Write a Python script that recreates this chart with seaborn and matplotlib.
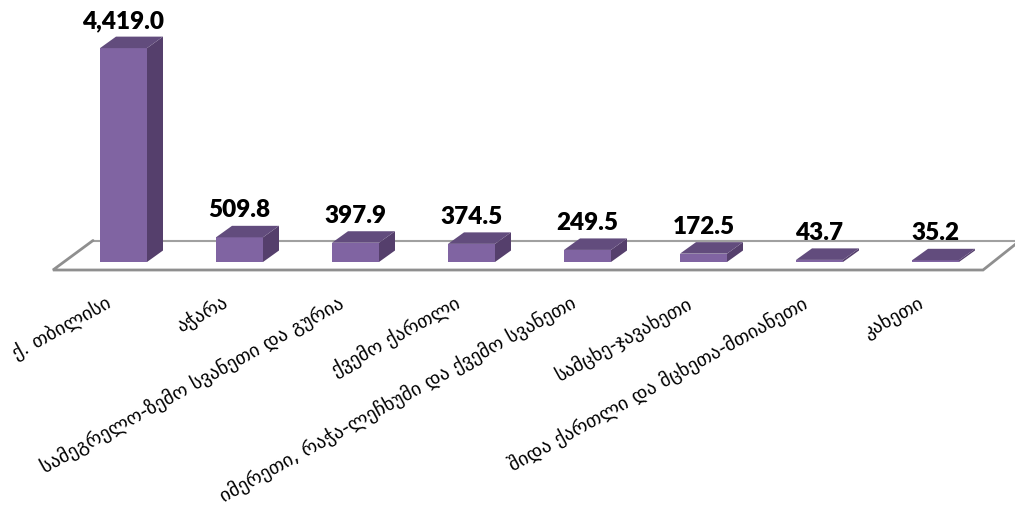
import seaborn as sns
import matplotlib.pyplot as plt
from matplotlib.patches import Polygon
from matplotlib.transforms import ScaledTranslation

regions = ['ქ. თბილისი', 'აჭარა', 'სამეგრელო-ზემო სვანეთი და გურია', 'ქვემო ქართლი',
           'იმერეთი, რაჭა-ლეჩხუმი და ქვემო სვანეთი', 'სამცხე-ჯავახეთი',
           'შიდა ქართლი და მცხეთა-მთიანეთი', 'კახეთი']
values = [4419.0, 509.8, 397.9, 374.5, 249.5, 172.5, 43.7, 35.2]
value_labels = ['4,419.0', '509.8', '397.9', '374.5', '249.5', '172.5', '43.7', '35.2']

# pixel layout of the chart
W, H = 1015, 513
PX_X = 116.0
PX_Y = 0.0484
DEPTH_X = 16 / PX_X
DEPTH_Y = 11.5 / PX_Y

sns.set_theme(style='white')
plt.rcParams['font.family'] = ['DejaVu Sans']

fig = plt.figure(figsize=(W / 100, H / 100), dpi=100)
ax = fig.add_axes([65.5 / W, (H - 262) / H, 928 / W, 262 / H])

sns.barplot(x=regions, y=values, color='#8064A2', saturation=1, width=47 / PX_X, ax=ax, zorder=3,
            edgecolor='none', linewidth=0)
ax.set_xlim(-0.5, 7.5)
ax.set_ylim(0, 262 / PX_Y)
bars = list(ax.patches)

# floor of the 3d chart
fl, fr = -0.608, 7.41
bl, br = -0.263, 7.73
front_y, back_y = -8 / PX_Y, 21.5 / PX_Y
ax.add_patch(Polygon([(fl, front_y), (fr, front_y), (br, back_y), (bl, back_y)], closed=True,
                     facecolor='white', edgecolor='none', clip_on=False, zorder=1))
ax.plot([bl, br], [back_y, back_y], color='#a0a0a0', lw=1.5, clip_on=False, zorder=1)
ax.plot([bl, fl, fr, br], [back_y, front_y, front_y, back_y], color='#8f8f8f', lw=2.0,
        clip_on=False, zorder=1, solid_joinstyle='miter')

# side and top faces of each bar
for bar in bars:
    x0, w, h = bar.get_x(), bar.get_width(), bar.get_height()
    x1 = x0 + w
    side = [(x1, 0), (x1 + DEPTH_X, DEPTH_Y), (x1 + DEPTH_X, h + DEPTH_Y), (x1, h)]
    top = [(x0, h), (x1, h), (x1 + DEPTH_X, h + DEPTH_Y), (x0 + DEPTH_X, h + DEPTH_Y)]
    ax.add_patch(Polygon(side, closed=True, facecolor='#553F6C', edgecolor='none', zorder=3, clip_on=False))
    ax.add_patch(Polygon(top, closed=True, facecolor='#624C7D', edgecolor='none', zorder=3, clip_on=False))

for i, (v, txt) in enumerate(zip(values, value_labels)):
    ax.annotate(txt, (i, v), xytext=(0, 19.4), textcoords='offset points', ha='center', va='center',
                fontsize=17.5, fontweight='heavy', family='Lato', color='black', zorder=5,
                annotation_clip=False)

sns.despine(ax=ax, left=True, bottom=True)
ax.set_yticks([])
ax.set_xticks(range(len(regions)))
ax.set_xticklabels(regions, rotation=29, ha='right', va='top', rotation_mode='anchor', fontsize=14, color='black')
ax.tick_params(axis='x', length=0, pad=22)
shift = ScaledTranslation(-18 / 100, 0, fig.dpi_scale_trans)
for lab in ax.get_xticklabels():
    lab.set_transform(lab.get_transform() + shift)
ax.grid(False)
ax.patch.set_alpha(0)

plt.savefig('out.png', dpi=100)
plt.close()
